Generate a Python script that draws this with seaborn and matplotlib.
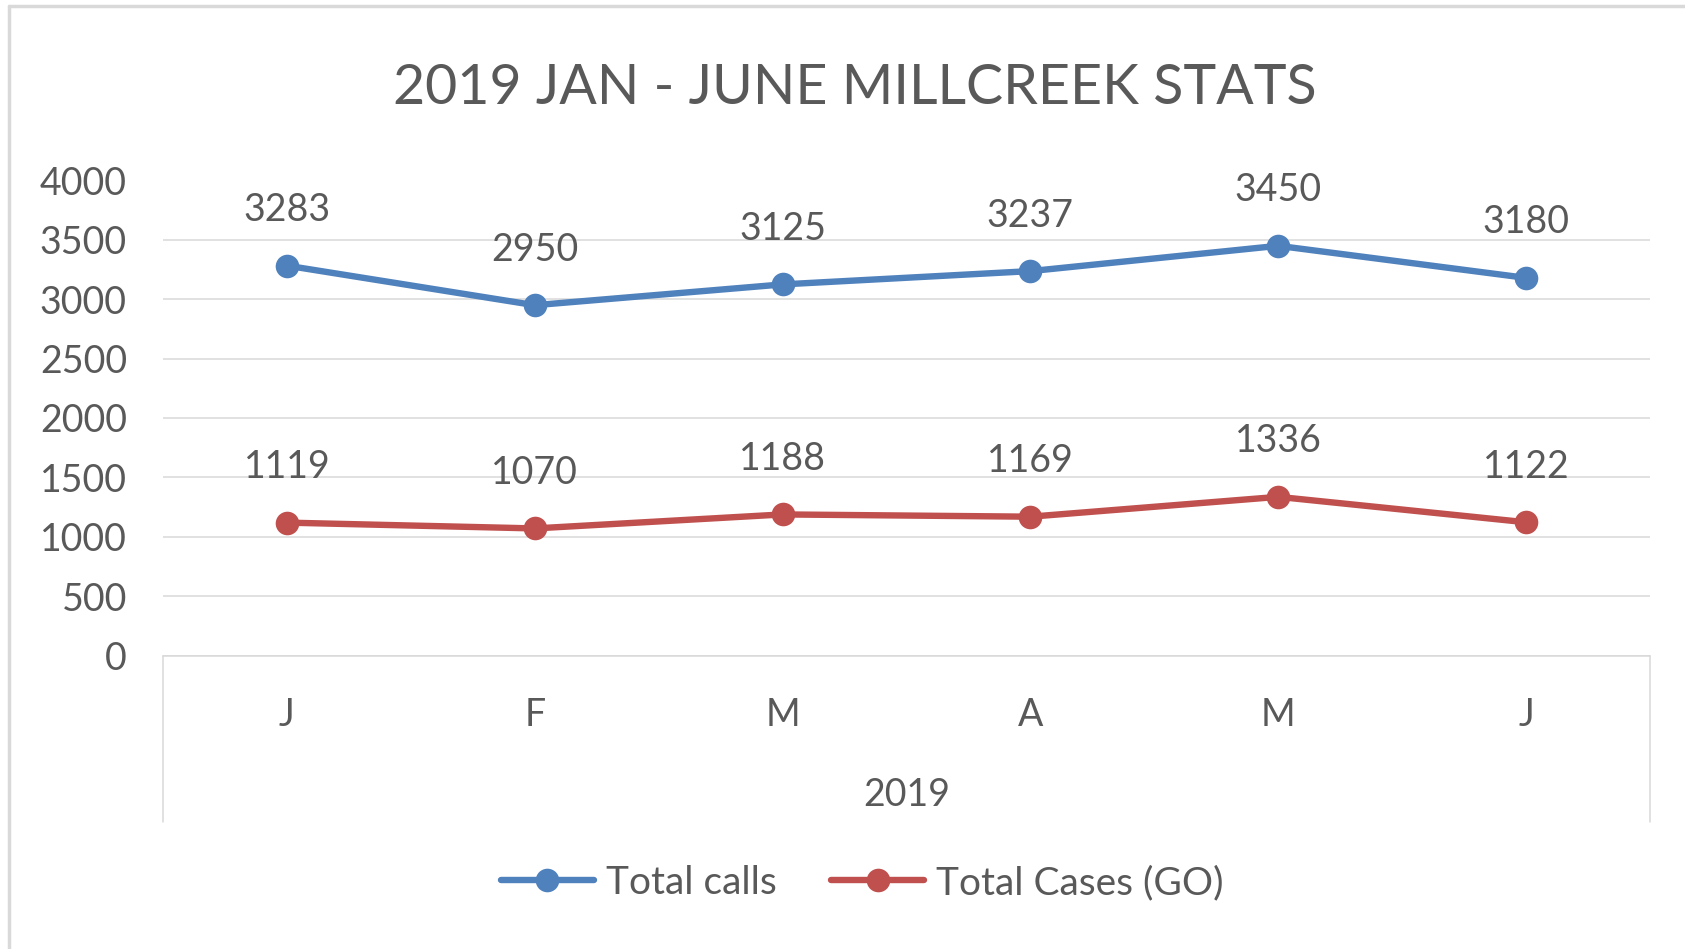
import pandas as pd
import matplotlib.pyplot as plt
import seaborn as sns

# dados do gráfico
meses = ['Jan', 'Feb', 'Mar', 'Apr', 'May', 'Jun']
rotulos_meses = ['J', 'F', 'M', 'A', 'M', 'J']
total_calls = [3283, 2950, 3125, 3237, 3450, 3180]
total_cases = [1119, 1070, 1188, 1169, 1336, 1122]
series = ['Total calls', 'Total Cases (GO)']
cores = ['#4F81BD', '#C0504D']
yticks = [0, 500, 1000, 1500, 2000, 2500, 3000, 3500, 4000]

df = pd.DataFrame({
    'Mes': list(range(len(meses))) * 2,
    'Valor': total_calls + total_cases,
    'Serie': [series[0]] * len(meses) + [series[1]] * len(meses),
})

sns.set_style('white')
plt.rcParams['font.family'] = ['Lato', 'DejaVu Sans']
cinza = '#595959'
grade = '#D9D9D9'

fig = plt.figure(figsize=(16.85, 9.49), dpi=100)
ax = fig.add_axes([163 / 1685, 1 - 655.5 / 949, (1650 - 163) / 1685, 475 / 949])

sns.lineplot(data=df, x='Mes', y='Valor', hue='Serie', palette=cores,
             marker='o', markersize=17, markeredgewidth=0, linewidth=4.6,
             ax=ax)

# rótulos de dados
for vals in [total_calls, total_cases]:
    for i, v in enumerate(vals):
        ax.annotate(str(v), (i, v), xytext=(0, 40), textcoords='offset points',
                    ha='center', va='center', fontsize=27, color=cinza)

ax.set_xlim(-0.5, 5.5)
ax.set_ylim(0, 4000)
ax.set_yticks(yticks)
ax.set_xticks(range(len(meses)))
ax.set_xticklabels(rotulos_meses)
ax.tick_params(axis='y', length=0, pad=26, labelsize=27, labelcolor=cinza)
ax.tick_params(axis='x', length=0, pad=30, labelsize=27, labelcolor=cinza)
ax.set_xlabel('')
ax.set_ylabel('')
ax.grid(axis='y', color=grade, linewidth=1.1)
ax.grid(axis='x', visible=False)
for lado in ['top', 'left', 'right']:
    ax.spines[lado].set_visible(False)
ax.spines['bottom'].set_color(grade)
ax.spines['bottom'].set_linewidth(1.1)

# caixa do grupo de categorias
ax.plot([-0.5, -0.5], [0, -0.35], transform=ax.get_xaxis_transform(),
        color=grade, lw=1.1, clip_on=False)
ax.plot([5.5, 5.5], [0, -0.35], transform=ax.get_xaxis_transform(),
        color=grade, lw=1.1, clip_on=False)
ax.text(0.5, -0.293, '2019', transform=ax.transAxes, ha='center', va='center',
        fontsize=27, color=cinza)

# legenda
handles, labels = ax.get_legend_handles_labels()
ax.legend_.remove()
fig.legend(handles, labels, loc='center', bbox_to_anchor=(862 / 1685, 1 - 883 / 949),
           ncol=2, frameon=False, fontsize=28, labelcolor=cinza,
           handlelength=2.4, handletextpad=0.3, columnspacing=1.4)

fig.text(855 / 1685, 1 - 89 / 949, '2019 JAN - JUNE MILLCREEK STATS',
         ha='center', va='center', fontsize=40, color=cinza)

# moldura
fig.add_artist(plt.Line2D([9 / 1685, 9 / 1685], [0, 1 - 5.5 / 949], color='#D9D9D9', lw=2.5))
fig.add_artist(plt.Line2D([9 / 1685, 1], [1 - 5.5 / 949, 1 - 5.5 / 949], color='#D9D9D9', lw=2.5))

plt.savefig('out.png', dpi=100)
